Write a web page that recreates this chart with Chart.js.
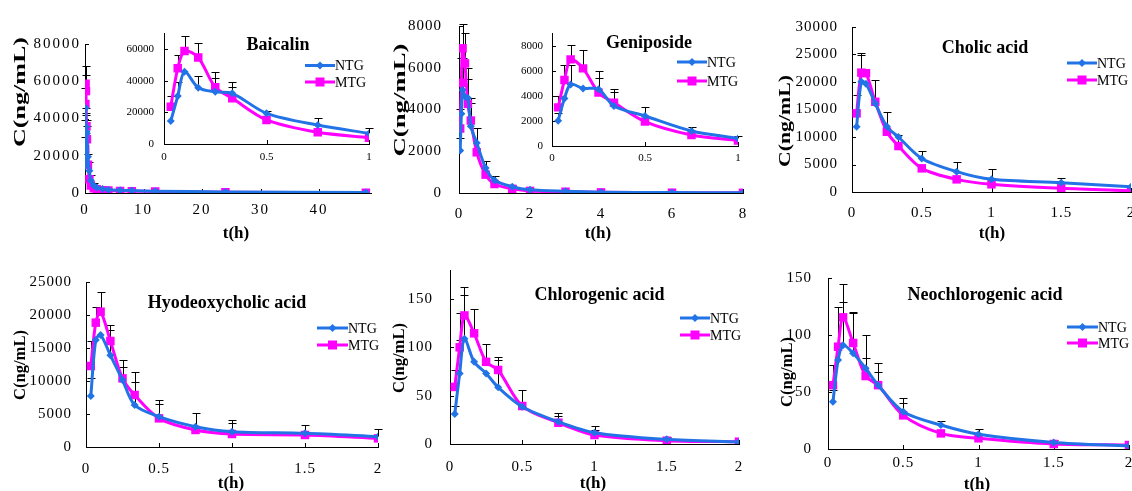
<!DOCTYPE html>
<html>
<head>
<meta charset="utf-8">
<script src="https://cdn.jsdelivr.net/npm/chart.js@4.4.1/dist/chart.umd.min.js"></script>
<style>
  html, body { margin: 0; padding: 0; background: #fff; }
  #wrap { position: relative; width: 1132px; height: 491px; overflow: hidden; }
  #wrap canvas { position: absolute; left: 0; top: 0; }
</style>
</head>
<body>
<div id="wrap"></div>
<script>
const BLUE = '#2273E6';
const PINK = '#FF00FF';
const SERIF = '"Liberation Serif", "Times New Roman", serif';

// sampling times (h)
const tBaicalin = [0.033, 0.067, 0.1, 0.167, 0.25, 0.333, 0.5, 0.75, 1, 1.5, 2, 3, 4, 6, 8, 12, 24, 48];
const tGeniposide = [0.033, 0.067, 0.1, 0.167, 0.25, 0.333, 0.5, 0.75, 1, 1.5, 2, 3, 4, 6, 8];
const tShort = [0.033, 0.067, 0.1, 0.167, 0.25, 0.333, 0.5, 0.75, 1, 1.5, 2];

// tick labels
const baiXTicks = [0, 10, 20, 30, 40];
const baiYTicks = [0, 20000, 40000, 60000, 80000];
const baiInsetYTicks = [0, 20000, 40000, 60000];
const insetXTicks = [0, 0.5, 1];
const geniXTicks = [0, 2, 4, 6, 8];
const geniYTicks = [0, 2000, 4000, 6000, 8000];
const shortXTicks = [0, 0.5, 1, 1.5, 2];
const choYTicks = [0, 5000, 10000, 15000, 20000, 25000, 30000];
const hyoYTicks = [0, 5000, 10000, 15000, 20000, 25000];
const acidYTicks = [0, 50, 100, 150];

// Baicalin
const baiNTG = [14500, 30300, 45700, 35600, 33000, 32000, 19400, 12000, 6700, 4000, 3000, 2200, 1800, 1500, 1300, 1000, 600, 300];
const baiNTGsd = [0, 9000, 0, 7400, 8900, 7300, 1400, 4600, 3200, 1500, 1000, 0, 0, 0, 0, 0, 0, 0];
const baiMTG = [23600, 47800, 58700, 54700, 35800, 28900, 15200, 7400, 4000, 2500, 2000, 1500, 1300, 1100, 1000, 800, 400, 200];
const baiMTGsd = [6700, 8400, 9700, 8900, 9900, 7300, 0, 0, 0, 0, 0, 0, 0, 0, 0, 0, 0, 0];

// Geniposide
const geniNTG = [2030, 3800, 4930, 4610, 4550, 3200, 2400, 1200, 610, 300, 150, 80, 40, 20, 10];
const geniNTGsd = [600, 0, 1550, 0, 890, 1330, 690, 340, 190, 100, 0, 0, 0, 0, 0];
const geniMTG = [3090, 5280, 6930, 6210, 4270, 3470, 1950, 880, 430, 200, 100, 60, 30, 15, 10];
const geniMTGsd = [940, 1200, 1150, 1470, 1730, 830, 0, 0, 0, 0, 0, 0, 0, 0, 0];

// Cholic acid
const choNTG = [11870, 20050, 19700, 16100, 11900, 10000, 6100, 3700, 2300, 1700, 960];
const choNTGsd = [5800, 4850, 0, 0, 2700, 0, 1350, 1800, 1800, 900, 0];
const choMTG = [14300, 21700, 21600, 16400, 10960, 8360, 4300, 2300, 1400, 670, 240];
const choMTGsd = [0, 3600, 0, 4000, 0, 2040, 0, 0, 0, 0, 0];

// Hyodeoxycholic acid
const hyoNTG = [7730, 16200, 16970, 13900, 10150, 6360, 4600, 3080, 2320, 2070, 1570];
const hyoNTGsd = [2770, 0, 0, 3800, 2020, 3540, 2520, 2120, 1770, 1260, 1200];
const hyoMTG = [12270, 18840, 20500, 16060, 10400, 7880, 4340, 2580, 1970, 1820, 1310];
const hyoMTGsd = [3790, 2410, 3030, 2420, 2780, 3520, 2170, 0, 1620, 0, 0];

// Chlorogenic acid
const chlNTG = [31, 73, 109, 85, 73, 58.6, 38.6, 23, 11.7, 4.8, 2];
const chlNTGsd = [8.6, 34.6, 45, 0, 0, 28.4, 0, 9.4, 7.3, 2.8, 0];
const chlMTG = [59, 100, 133, 114.5, 85, 76.6, 39.3, 22, 9.3, 3.4, 2.4];
const chlMTGsd = [17.5, 36, 29.7, 25.5, 18.5, 13, 16.6, 7, 5.7, 0, 0];

// Neochlorogenic acid
const neoNTG = [41.5, 78, 91, 84, 70.8, 56, 32.7, 21, 13, 5.8, 2.6];
const neoNTGsd = [10.2, 0, 38, 35, 8.7, 19.7, 11.7, 3.5, 4.5, 2.1, 0];
const neoMTG = [56, 89.7, 115.5, 93, 64, 56, 29.5, 13.7, 9.4, 4.4, 3.5];
const neoMTGsd = [17.7, 35.1, 28.9, 27, 36, 11.8, 10.5, 0, 0, 0, 0];

const CW = 1160, CH = 491;
const Y_BOX = 60, X_BOX = 30;

// error bars, inner tick marks, titles, legend, axis titles
const decorPlugin = {
  id: 'decor',
  beforeDraw(chart, args, o) {
    chart.ctx.letterSpacing = (o.spacing || 0) + 'px';
  },
  beforeDatasetsDraw(chart, args, o) {
    const ctx = chart.ctx;
    ctx.letterSpacing = '0px';
    const xs = chart.scales.x, ys = chart.scales.y;
    ctx.save();
    ctx.strokeStyle = '#000';
    ctx.lineWidth = 1;
    ctx.beginPath();
    xs.ticks.forEach(t => {
      const px = Math.round(xs.getPixelForValue(t.value)) + 0.5;
      ctx.moveTo(px, ys.bottom); ctx.lineTo(px, ys.bottom - 4);
    });
    ys.ticks.forEach(t => {
      const py = Math.round(ys.getPixelForValue(t.value)) + 0.5;
      ctx.moveTo(xs.left, py); ctx.lineTo(xs.left + 4, py);
    });
    ctx.stroke();
    // error bars (upper only)
    ctx.beginPath();
    chart.data.datasets.forEach(ds => {
      ds.data.forEach((p, i) => {
        const sd = ds.sd[i];
        if (!sd) return;
        const px = Math.round(xs.getPixelForValue(p.x)) + 0.5;
        const y0 = ys.getPixelForValue(p.y);
        const y1 = Math.round(ys.getPixelForValue(p.y + sd)) + 0.5;
        ctx.moveTo(px, y0); ctx.lineTo(px, y1);
        ctx.moveTo(px - 4, y1); ctx.lineTo(px + 4, y1);
      });
    });
    ctx.stroke();
    ctx.restore();
  },
  afterDraw(chart, args, o) {
    const ctx = chart.ctx;
    ctx.save();
    ctx.fillStyle = '#000';
    if (o.title) {
      ctx.font = 'bold 18px ' + SERIF;
      ctx.textAlign = 'center';
      ctx.textBaseline = 'middle';
      ctx.fillText(o.title.text, o.title.x, o.title.y);
    }
    if (o.xTitle) {
      ctx.font = 'bold 17px ' + SERIF;
      ctx.textAlign = 'center';
      ctx.textBaseline = 'middle';
      ctx.fillText('t(h)', o.xTitle.x, o.xTitle.y);
    }
    if (o.yTitle) {
      ctx.save();
      ctx.font = 'bold 17px ' + SERIF;
      const w = ctx.measureText('C(ng/mL)').width;
      ctx.translate(o.yTitle.x, o.yTitle.y);
      ctx.rotate(-Math.PI / 2);
      ctx.scale(o.yTitle.len / w, 1);
      ctx.textAlign = 'center';
      ctx.textBaseline = 'middle';
      ctx.fillText('C(ng/mL)', 0, 0);
      ctx.restore();
    }
    if (o.legend) {
      const L = o.legend;
      const items = [
        { text: 'NTG', color: BLUE, y: L.y1, shape: 'diamond' },
        { text: 'MTG', color: PINK, y: L.y2, shape: 'square' }
      ];
      items.forEach(it => {
        ctx.strokeStyle = it.color;
        ctx.fillStyle = it.color;
        ctx.lineWidth = 3;
        ctx.beginPath();
        ctx.moveTo(L.x1, it.y); ctx.lineTo(L.x2, it.y);
        ctx.stroke();
        const mx = (L.x1 + L.x2) / 2;
        ctx.beginPath();
        if (it.shape === 'diamond') {
          ctx.moveTo(mx, it.y - 4); ctx.lineTo(mx + 4, it.y);
          ctx.lineTo(mx, it.y + 4); ctx.lineTo(mx - 4, it.y);
          ctx.closePath(); ctx.fill();
        } else {
          ctx.fillRect(mx - 4.5, it.y - 4.5, 9, 9);
        }
        ctx.fillStyle = '#000';
        ctx.font = '14px ' + SERIF;
        ctx.textAlign = 'left';
        ctx.textBaseline = 'middle';
        ctx.fillText(it.text, L.x2, it.y + 1);
      });
    }
    ctx.restore();
  }
};

function series(times, vals, n) {
  return times.slice(0, n).map((t, i) => ({ x: t, y: vals[i] }));
}

function makePanel(p) {
  const canvas = document.createElement('canvas');
  canvas.width = CW; canvas.height = CH;
  canvas.style.width = CW + 'px'; canvas.style.height = CH + 'px';
  document.getElementById('wrap').appendChild(canvas);
  const n = p.n || p.times.length;
  const fs = p.fontSize || 15;
  new Chart(canvas, {
    type: 'line',
    data: {
      datasets: [
        {
          label: 'NTG', data: series(p.times, p.ntg, n), sd: p.ntgSd,
          borderColor: BLUE, backgroundColor: BLUE, borderWidth: 3,
          pointStyle: 'rectRot', pointRadius: 4, pointBorderWidth: 0, tension: 0.3
        },
        {
          label: 'MTG', data: series(p.times, p.mtg, n), sd: p.mtgSd,
          borderColor: PINK, backgroundColor: PINK, borderWidth: 3,
          pointStyle: 'rect', pointRadius: 6, pointBorderWidth: 0, tension: 0.3
        }
      ]
    },
    options: {
      responsive: false,
      animation: false,
      layout: {
        padding: { left: p.l - Y_BOX, top: p.t, right: CW - p.r, bottom: CH - p.b - X_BOX }
      },
      scales: {
        x: {
          type: 'linear', min: 0, max: p.xMax,
          afterFit: s => { s.height = X_BOX; },
          afterBuildTicks: s => { s.ticks = p.xTicks.map(v => ({ value: v })); },
          grid: { display: false, drawTicks: false },
          border: { display: true, color: '#000', width: 1 },
          ticks: {
            padding: p.xPad, color: '#000', font: { family: SERIF, size: fs },
            maxRotation: 0, autoSkip: false, callback: v => String(v)
          }
        },
        y: {
          min: 0, max: p.yMax,
          afterFit: s => { s.width = Y_BOX; },
          afterBuildTicks: s => { s.ticks = p.yTicks.map(v => ({ value: v })); },
          grid: { display: false, drawTicks: false },
          border: { display: true, color: '#000', width: 1 },
          ticks: {
            padding: p.yPad, color: '#000', font: { family: SERIF, size: fs },
            autoSkip: false, callback: v => String(v)
          }
        }
      },
      plugins: {
        legend: { display: false },
        tooltip: { enabled: false },
        decor: p.decor || {}
      }
    },
    plugins: [decorPlugin]
  });
}

// Baicalin (main + inset)
makePanel({
  l: 85, t: 44, r: 371.7, b: 193, xMax: 49, yMax: 80000, xTicks: baiXTicks, yTicks: baiYTicks,
  xPad: 8, yPad: 4, times: tBaicalin, ntg: baiNTG, ntgSd: baiNTGsd, mtg: baiMTG, mtgSd: baiMTGsd,
  decor: {
    spacing: 2,
    title: { text: 'Baicalin', x: 278, y: 45 },
    legend: { x1: 305, x2: 335, y1: 65.5, y2: 82 },
    yTitle: { x: 20.5, y: 92, len: 110 },
    xTitle: { x: 236, y: 234 }
  }
});
makePanel({
  l: 164, t: 33.2, r: 369, b: 144, xMax: 1, yMax: 70000, xTicks: insetXTicks, yTicks: baiInsetYTicks,
  xPad: 7, yPad: 10, fontSize: 11, n: 9,
  times: tBaicalin, ntg: baiNTG, ntgSd: baiNTGsd, mtg: baiMTG, mtgSd: baiMTGsd
});

// Geniposide (main + inset)
makePanel({
  l: 459, t: 25, r: 743, b: 193, xMax: 8, yMax: 8000, xTicks: geniXTicks, yTicks: geniYTicks,
  xPad: 12, yPad: 17, times: tGeniposide, ntg: geniNTG, ntgSd: geniNTGsd, mtg: geniMTG, mtgSd: geniMTGsd,
  decor: {
    spacing: 1,
    title: { text: 'Geniposide', x: 649, y: 43 },
    legend: { x1: 677, x2: 707, y1: 62, y2: 81 },
    yTitle: { x: 401, y: 100, len: 113 },
    xTitle: { x: 598, y: 234 }
  }
});
makePanel({
  l: 552, t: 33.5, r: 738, b: 146, xMax: 1, yMax: 9000, xTicks: insetXTicks, yTicks: geniYTicks,
  xPad: 6, yPad: 9, fontSize: 11, n: 9,
  times: tGeniposide, ntg: geniNTG, ntgSd: geniNTGsd, mtg: geniMTG, mtgSd: geniMTGsd
});

// Cholic acid
makePanel({
  l: 852, t: 27, r: 1131, b: 192, xMax: 2, yMax: 30000, xTicks: shortXTicks, yTicks: choYTicks,
  xPad: 12, yPad: 14, times: tShort, ntg: choNTG, ntgSd: choNTGsd, mtg: choMTG, mtgSd: choMTGsd,
  decor: {
    spacing: 1,
    title: { text: 'Cholic acid', x: 985, y: 48 },
    legend: { x1: 1067, x2: 1097, y1: 63, y2: 80 },
    yTitle: { x: 786, y: 121, len: 92 },
    xTitle: { x: 992, y: 234 }
  }
});

// Hyodeoxycholic acid
makePanel({
  l: 86, t: 282, r: 378, b: 447, xMax: 2, yMax: 25000, xTicks: shortXTicks, yTicks: hyoYTicks,
  xPad: 13, yPad: 14, times: tShort, ntg: hyoNTG, ntgSd: hyoNTGsd, mtg: hyoMTG, mtgSd: hyoMTGsd,
  decor: {
    spacing: 1,
    title: { text: 'Hyodeoxycholic acid', x: 227, y: 303 },
    legend: { x1: 317, x2: 348, y1: 328, y2: 345 },
    yTitle: { x: 21, y: 365, len: 70 },
    xTitle: { x: 231, y: 484 }
  }
});

// Chlorogenic acid
makePanel({
  l: 450, t: 270, r: 739, b: 444, xMax: 2, yMax: 180, xTicks: shortXTicks, yTicks: acidYTicks,
  xPad: 14.5, yPad: 17, times: tShort, ntg: chlNTG, ntgSd: chlNTGsd, mtg: chlMTG, mtgSd: chlMTGsd,
  decor: {
    spacing: 1,
    title: { text: 'Chlorogenic acid', x: 599.5, y: 295 },
    legend: { x1: 680, x2: 710, y1: 318, y2: 335 },
    yTitle: { x: 400, y: 358, len: 70 },
    xTitle: { x: 593, y: 484 }
  }
});

// Neochlorogenic acid
makePanel({
  l: 828, t: 278, r: 1129, b: 449, xMax: 2, yMax: 150, xTicks: shortXTicks, yTicks: acidYTicks,
  xPad: 5.5, yPad: 16, times: tShort, ntg: neoNTG, ntgSd: neoNTGsd, mtg: neoMTG, mtgSd: neoMTGsd,
  decor: {
    spacing: 1,
    title: { text: 'Neochlorogenic acid', x: 985, y: 295 },
    legend: { x1: 1067, x2: 1098, y1: 327, y2: 343 },
    yTitle: { x: 788, y: 372, len: 70 },
    xTitle: { x: 977, y: 485 }
  }
});
</script>
</body>
</html>
